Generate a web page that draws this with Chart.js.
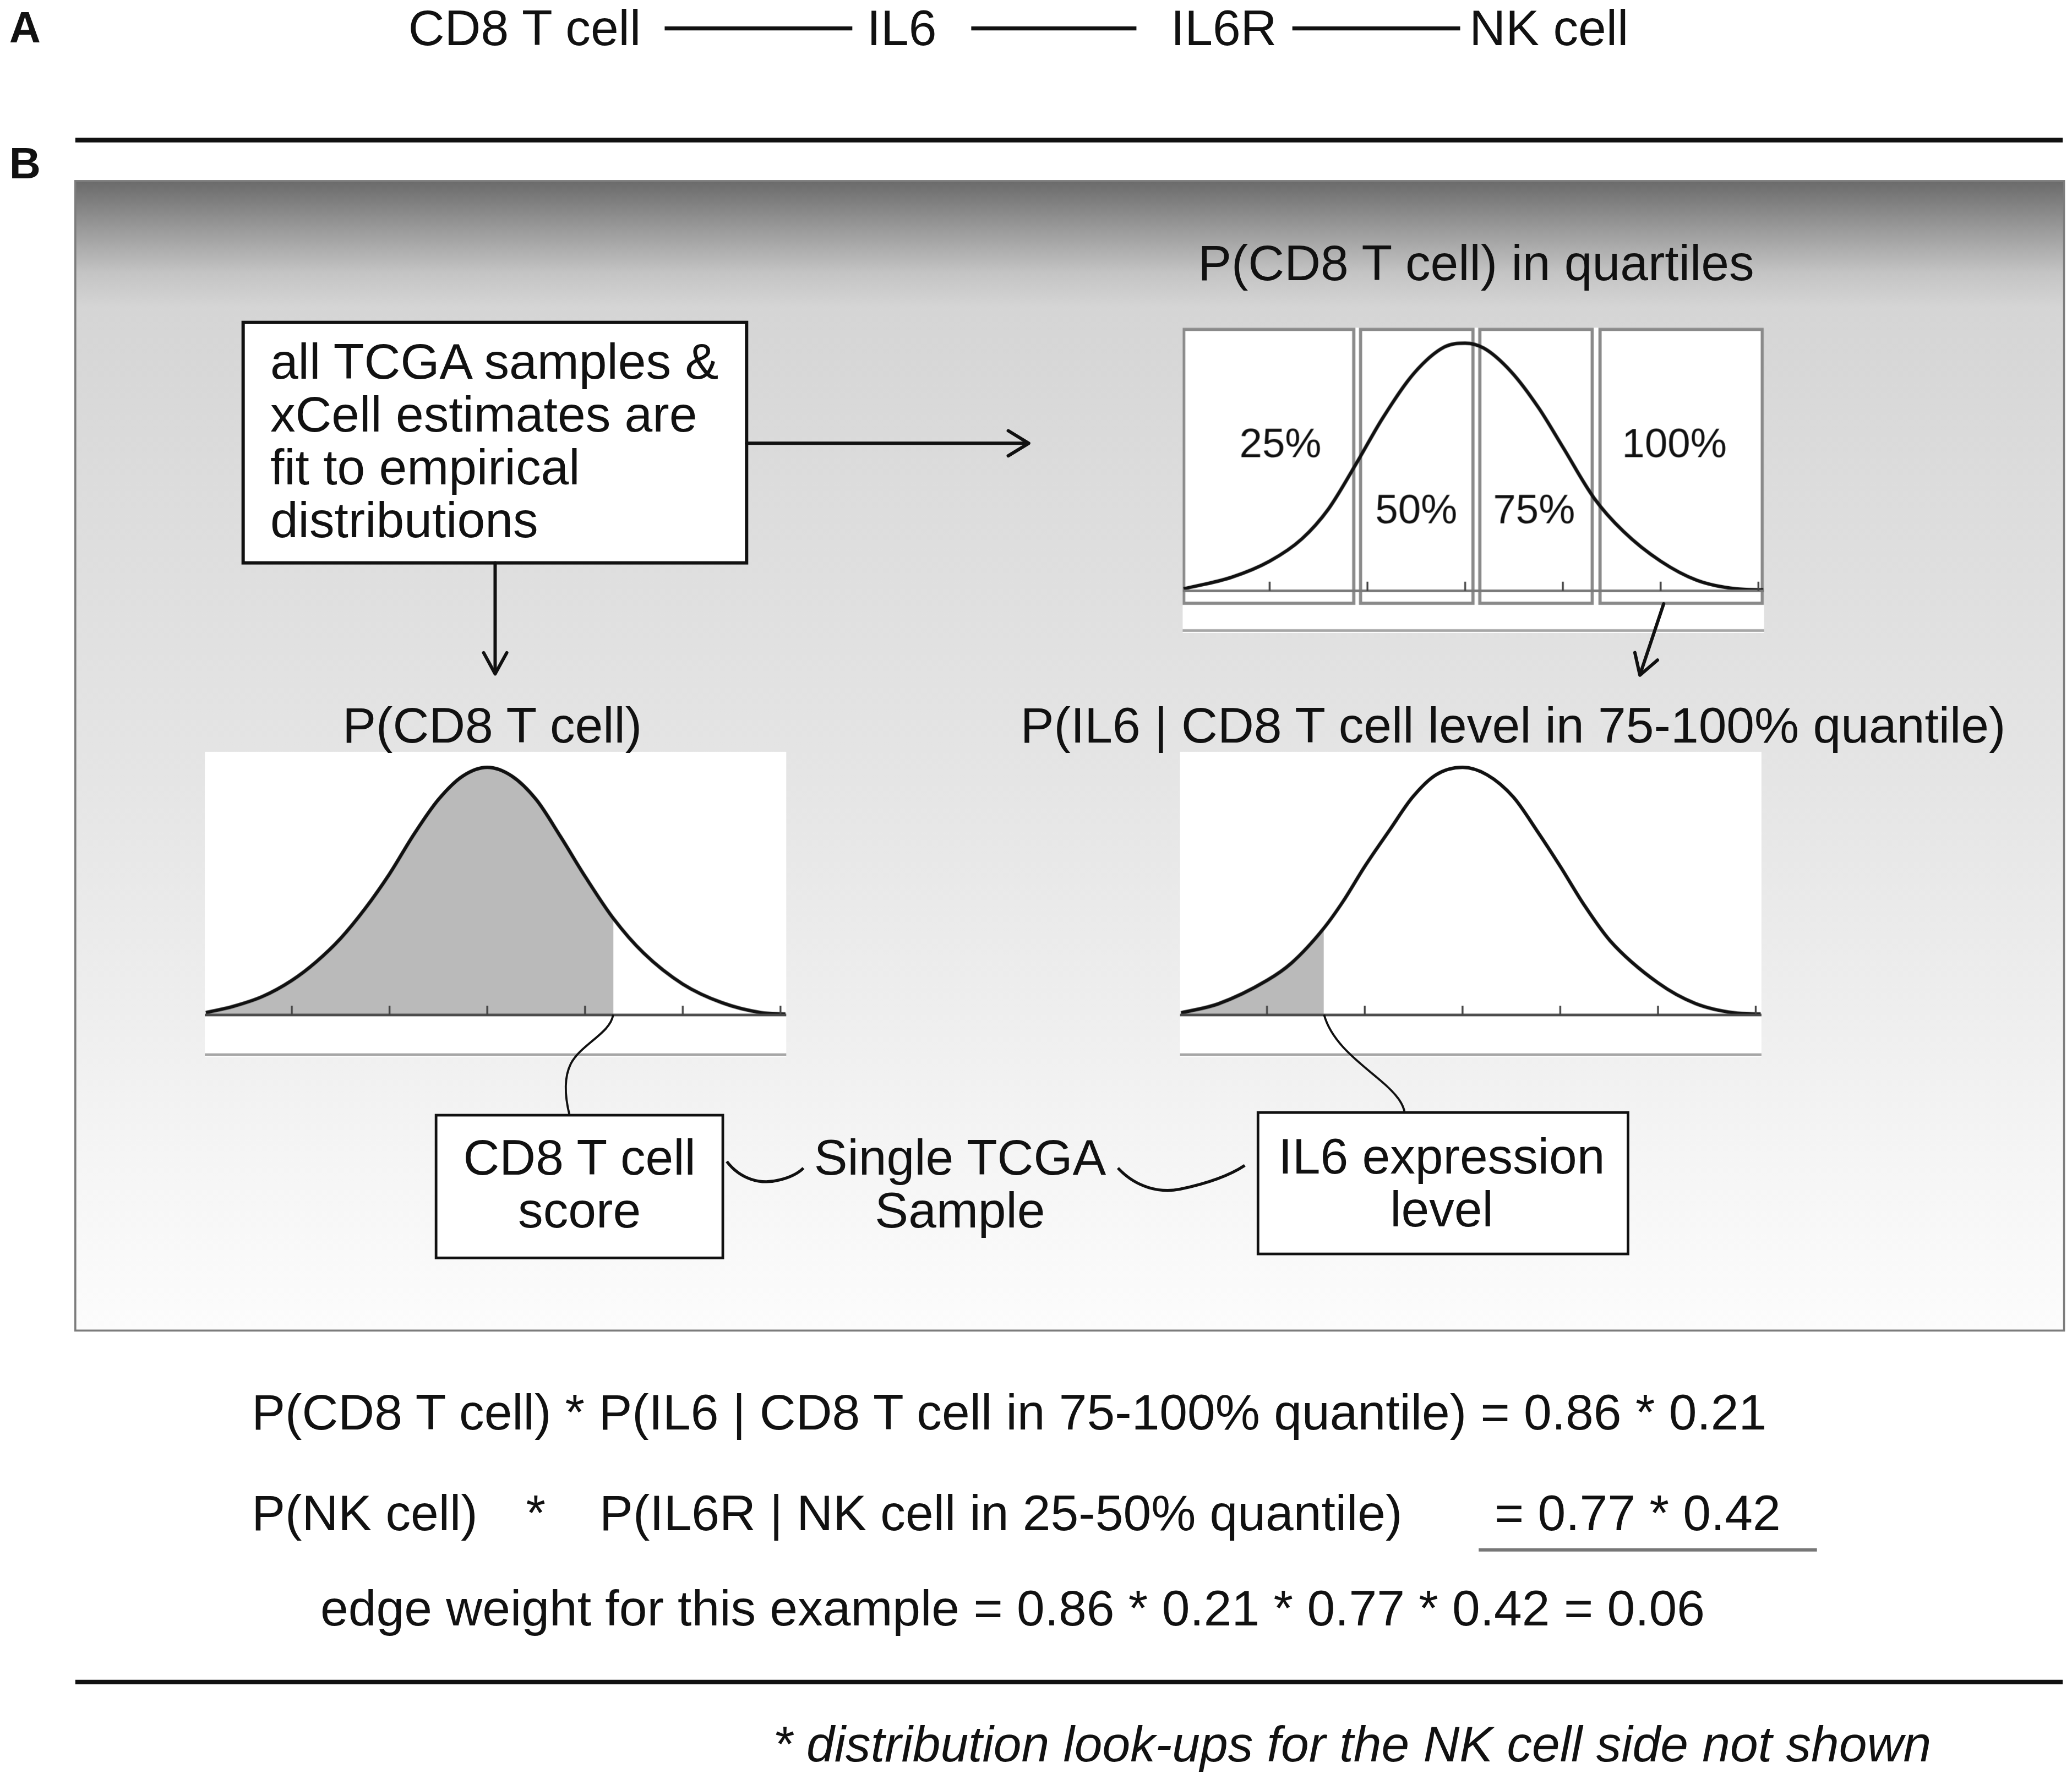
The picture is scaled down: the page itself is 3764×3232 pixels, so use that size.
<!DOCTYPE html>
<html>
<head>
<meta charset="utf-8">
<script src="https://cdn.jsdelivr.net/npm/chart.js@4.4.1/dist/chart.umd.min.js"></script>
<style>
  html, body { margin: 0; padding: 0; background: #fff; }
  body { width: 3764px; height: 3232px; overflow: hidden; }
  #page {
    position: absolute; left: 0; top: 0;
    width: 1568px; height: 1346px;
    transform: scale(2.4005); transform-origin: 0 0;
    font-family: "Liberation Sans", Arial, sans-serif;
  }
  #page svg { position: absolute; left: 0; top: 0; }
  .plot { position: absolute; width: 440px; height: 231px; }
  .plot canvas { display: block; }
  text { font-family: "Liberation Sans", Arial, sans-serif; fill: #111; }
</style>
</head>
<body>
<div id="page">
  <svg id="under" width="1568" height="1346" viewBox="0 0 1568 1346">
    <defs>
      <linearGradient id="shade" x1="0" y1="0" x2="0" y2="1">
        <stop offset="0" stop-color="#6a6a6a"/>
        <stop offset="0.04" stop-color="#989898"/>
        <stop offset="0.08" stop-color="#c4c4c4"/>
        <stop offset="0.11" stop-color="#d5d5d5"/>
        <stop offset="0.26" stop-color="#dcdcdc"/>
        <stop offset="0.52" stop-color="#e5e5e5"/>
        <stop offset="0.72" stop-color="#eeeeee"/>
        <stop offset="0.85" stop-color="#f5f5f5"/>
        <stop offset="1" stop-color="#fcfcfc"/>
      </linearGradient>
    </defs>
    <rect x="57" y="137" width="1505" height="870" fill="url(#shade)" stroke="#7c7c7c" stroke-width="1.5"/>
  </svg>

  <div class="plot" style="left:895px; top:248px;"><canvas id="quartChart" width="440" height="231"></canvas></div>
  <div class="plot" style="left:155px; top:569px;"><canvas id="leftChart" width="440" height="231"></canvas></div>
  <div class="plot" style="left:893px; top:569px;"><canvas id="rightChart" width="440" height="231"></canvas></div>

  <svg id="over" width="1568" height="1346" viewBox="0 0 1568 1346">
    <!-- panel A -->
    <text x="7" y="32" font-size="33" font-weight="bold">A</text>
    <text x="309" y="34" font-size="38">CD8 T cell</text>
    <text x="656" y="34" font-size="38">IL6</text>
    <text x="886" y="34" font-size="38">IL6R</text>
    <text x="1112" y="34" font-size="38">NK cell</text>
    <g stroke="#111" stroke-width="3">
      <line x1="503" y1="21.5" x2="645" y2="21.5"/>
      <line x1="735" y1="21.5" x2="860" y2="21.5"/>
      <line x1="978" y1="21.5" x2="1105" y2="21.5"/>
    </g>
    <line x1="57" y1="106" x2="1561" y2="106" stroke="#111" stroke-width="3.5"/>

    <!-- panel B -->
    <text x="7" y="135" font-size="33" font-weight="bold">B</text>
    <text x="1117" y="212" font-size="38" text-anchor="middle">P(CD8 T cell) in quartiles</text>

    <rect x="184" y="244" width="381" height="182" fill="#fff" stroke="#111" stroke-width="2.5"/>
    <text x="204.5" y="286.5" font-size="38">all TCGA samples &amp;</text>
    <text x="204.5" y="326.5" font-size="38">xCell estimates are</text>
    <text x="204.5" y="366.5" font-size="38">fit to empirical</text>
    <text x="204.5" y="406.5" font-size="38">distributions</text>

    <g stroke="#111" stroke-width="2.5" fill="none" stroke-linecap="round" stroke-linejoin="round">
      <line x1="565" y1="335.5" x2="778" y2="335.5"/>
      <polyline points="763,326 778.5,335.5 763,345"/>
      <line x1="374.7" y1="426" x2="374.7" y2="509"/>
      <polyline points="366,494 374.7,510 383.5,494"/>
      <line x1="1259" y1="457" x2="1241.3" y2="510"/>
      <polyline points="1237.2,493.9 1241,511 1254.3,499.6"/>
    </g>

    <text x="372.5" y="562" font-size="38" text-anchor="middle">P(CD8 T cell)</text>
    <text x="1145" y="562" font-size="38" text-anchor="middle">P(IL6 | CD8 T cell level in 75-100% quantile)</text>

    <g stroke="#111" stroke-width="1.6" fill="none">
      <path d="M464,768 C462,782 440,790 432,805 C426,817 428,832 431,844"/>
      <path d="M1002,768 C1008,790 1030,805 1045,818 C1058,829 1062,836 1063,842"/>
      <path d="M550,879 C560,892 575,897 590,893 C598,891 604,888 608,884" stroke-width="2.2"/>
      <path d="M846,884 C860,899 878,903 893,900 C912,896 930,890 942,882" stroke-width="2.2"/>
    </g>

    <rect x="330" y="844" width="217" height="108" fill="#fff" stroke="#111" stroke-width="2"/>
    <text x="438.5" y="889" font-size="38" text-anchor="middle">CD8 T cell</text>
    <text x="438.5" y="929" font-size="38" text-anchor="middle">score</text>

    <text x="726.5" y="889" font-size="38" text-anchor="middle">Single TCGA</text>
    <text x="726.5" y="929" font-size="38" text-anchor="middle">Sample</text>

    <rect x="952" y="842" width="280" height="107" fill="#fff" stroke="#111" stroke-width="2"/>
    <text x="1091" y="888" font-size="38" text-anchor="middle">IL6 expression</text>
    <text x="1091" y="928" font-size="38" text-anchor="middle">level</text>

    <!-- equations -->
    <text x="190.5" y="1082" font-size="38">P(CD8 T cell) * P(IL6 | CD8 T cell in 75-100% quantile) = 0.86 * 0.21</text>
    <text x="190.5" y="1158" font-size="38">P(NK cell)</text>
    <text x="398" y="1158" font-size="38">*</text>
    <text x="453.7" y="1158" font-size="38">P(IL6R | NK cell in 25-50% quantile)</text>
    <text x="1131" y="1158" font-size="38">= 0.77 * 0.42</text>
    <line x1="1119" y1="1173" x2="1375" y2="1173" stroke="#777" stroke-width="2.5"/>
    <text x="242.5" y="1230" font-size="38">edge weight for this example = 0.86 * 0.21 * 0.77 * 0.42 = 0.06</text>

    <line x1="57" y1="1273" x2="1561" y2="1273" stroke="#111" stroke-width="3.5"/>
    <text x="585" y="1333" font-size="38" font-style="italic">* distribution look-ups for the NK cell side not shown</text>
  </svg>
</div>

<script>
// --- values (x in axis units, y as fraction of peak height) ---
const tickValues = [-2, -1, 0, 1, 2, 3];

// P(CD8 T cell) in quartiles
const quartX = [-2.88, -2.39, -2.0, -1.67, -1.4, -1.12, -0.84, -0.52, -0.21, 0, 0.19, 0.47, 0.75, 1.0, 1.32, 1.62, 2.0, 2.37, 2.77, 3.05];
const quartY = [0.0085, 0.055, 0.12, 0.21, 0.33, 0.51, 0.70, 0.88, 0.985, 1.0, 0.98, 0.885, 0.74, 0.58, 0.374, 0.24, 0.12, 0.043, 0.0085, 0.004];
const quartLabels = ["25%", "50%", "75%", "100%"];
const quartBounds = [[-2.88, -1.14], [-1.07, 0.08], [0.15, 1.30], [1.38, 3.04]];

// P(CD8 T cell), shaded up to the sample's score
const leftX = [-2.88, -2.6, -2.3, -2.0, -1.75, -1.5, -1.25, -1.0, -0.75, -0.5, -0.25, 0, 0.25, 0.5, 0.75, 1.0, 1.29, 1.6, 2.0, 2.4, 2.8, 3.05];
const leftY = [0.01, 0.035, 0.075, 0.14, 0.215, 0.31, 0.43, 0.57, 0.73, 0.87, 0.965, 1.0, 0.965, 0.87, 0.72, 0.56, 0.39, 0.25, 0.125, 0.05, 0.01, 0.004];
const leftCut = 1.29;

// P(IL6 | CD8 T cell level in 75-100% quantile), shaded up to the sample's level
const rightX = [-2.88, -2.5, -2.0, -1.75, -1.42, -1.22, -1.0, -0.74, -0.51, -0.27, 0, 0.25, 0.52, 0.76, 1.0, 1.24, 1.51, 2.0, 2.38, 2.78, 3.05];
const rightY = [0.009, 0.045, 0.14, 0.21, 0.35, 0.46, 0.60, 0.75, 0.88, 0.97, 1.0, 0.97, 0.88, 0.745, 0.6, 0.447, 0.3, 0.13, 0.047, 0.009, 0.004];
const rightCut = -1.42;

const DPR = 2.4005 * (window.devicePixelRatio || 1);
const X_MIN = -2.89, X_MAX = 3.06;
const Y_MIN = -0.1708, Y_MAX = 1.0625;
const FONT = '"Liberation Sans", Arial, sans-serif';

function toPoints(xs, ys) {
  return xs.map((x, i) => ({ x: x, y: ys[i] }));
}

// white plot background, axis line, small upward ticks, bottom rule, quartile panels
function makeDecor(cfg) {
  return {
    id: "decor",
    beforeDraw(chart) {
      const { ctx, width, height } = chart;
      ctx.save();
      ctx.fillStyle = "#fff";
      ctx.fillRect(0, 0, width, height);
      ctx.restore();
    },
    beforeDatasetsDraw(chart) {
      if (!cfg.panels) return;
      const { ctx, scales } = chart;
      const top = chart.chartArea.top + 1.3;
      const bottom = scales.y.getPixelForValue(-0.05);
      ctx.save();
      ctx.strokeStyle = "#8a8a8a";
      ctx.lineWidth = 2.4;
      cfg.panels.forEach(([a, b]) => {
        const x0 = scales.x.getPixelForValue(a);
        const x1 = scales.x.getPixelForValue(b);
        ctx.strokeRect(x0, top, x1 - x0, bottom - top);
      });
      ctx.restore();
    },
    afterDatasetsDraw(chart) {
      const { ctx, scales, chartArea } = chart;
      const y0 = scales.y.getPixelForValue(0);
      ctx.save();
      // axis
      ctx.strokeStyle = cfg.axisColor;
      ctx.lineWidth = 2;
      ctx.beginPath();
      ctx.moveTo(chartArea.left, y0);
      ctx.lineTo(chartArea.right, y0);
      ctx.stroke();
      // ticks
      ctx.strokeStyle = "#444";
      ctx.lineWidth = 1.4;
      tickValues.forEach(v => {
        const x = scales.x.getPixelForValue(v);
        ctx.beginPath();
        ctx.moveTo(x, y0);
        ctx.lineTo(x, y0 - 7);
        ctx.stroke();
      });
      // lower rule of the plot frame
      ctx.strokeStyle = "#a6a6a6";
      ctx.lineWidth = 2;
      ctx.beginPath();
      ctx.moveTo(chartArea.left, chartArea.bottom - 2);
      ctx.lineTo(chartArea.right, chartArea.bottom - 2);
      ctx.stroke();
      // quartile labels
      if (cfg.labels) {
        ctx.fillStyle = "#111";
        ctx.font = "31px " + FONT;
        ctx.textAlign = "center";
        ctx.textBaseline = "alphabetic";
        cfg.labels.forEach((t, i) => {
          ctx.fillText(t, scales.x.getPixelForValue(cfg.labelX[i]), scales.y.getPixelForValue(cfg.labelY[i]));
        });
      }
      ctx.restore();
    }
  };
}

function curveChart(id, xs, ys, cut, decorCfg) {
  const datasets = [{
    data: toPoints(xs, ys),
    borderColor: "#111",
    borderWidth: 2.6,
    pointRadius: 0,
    cubicInterpolationMode: "monotone",
    fill: false
  }];
  if (cut !== null) {
    const idx = xs.map((x, i) => i).filter(i => xs[i] <= cut);
    datasets.push({
      data: idx.map(i => ({ x: xs[i], y: ys[i] })),
      borderWidth: 0,
      borderColor: "rgba(0,0,0,0)",
      backgroundColor: "#bababa",
      pointRadius: 0,
      cubicInterpolationMode: "monotone",
      fill: "origin"
    });
  }
  return new Chart(document.getElementById(id), {
    type: "line",
    data: { datasets: datasets },
    options: {
      responsive: false,
      animation: false,
      devicePixelRatio: DPR,
      events: [],
      layout: { padding: 0 },
      scales: {
        x: { type: "linear", min: X_MIN, max: X_MAX, display: false },
        y: { type: "linear", min: Y_MIN, max: Y_MAX, display: false }
      },
      plugins: {
        legend: { display: false },
        tooltip: { enabled: false }
      }
    },
    plugins: [makeDecor(decorCfg)]
  });
}

curveChart("quartChart", quartX, quartY, null, {
  axisColor: "#7a7a7a",
  panels: quartBounds,
  labels: quartLabels,
  labelX: [-1.89, -0.5, 0.705, 2.14],
  labelY: [0.54, 0.274, 0.274, 0.54]
});
curveChart("leftChart", leftX, leftY, leftCut, { axisColor: "#4a4a4a" });
curveChart("rightChart", rightX, rightY, rightCut, { axisColor: "#4a4a4a" });
</script>
</body>
</html>
